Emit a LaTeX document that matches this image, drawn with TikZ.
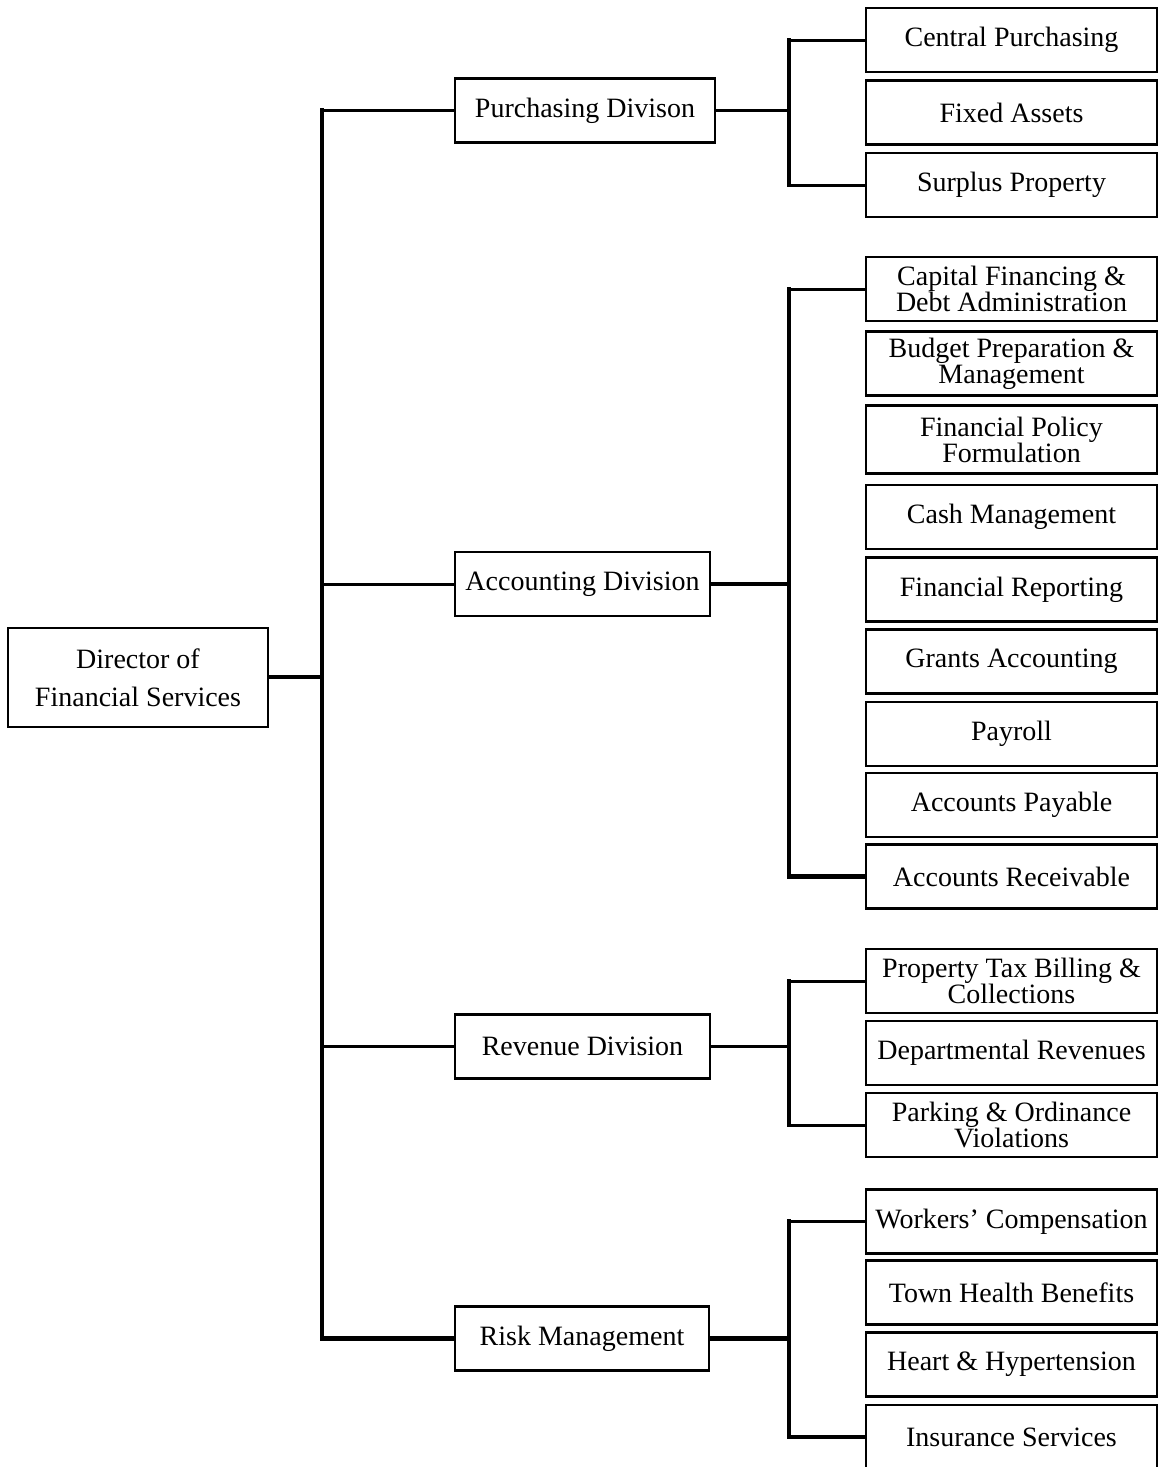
\documentclass[tikz,border=0pt]{standalone}
\usepackage{fontspec}
\setmainfont{Liberation Serif}
\begin{document}
\begin{tikzpicture}[x=1pt,y=-1pt,
  box/.style={draw=black,line width=2.4pt,fill=white,inner sep=0pt,align=center,
    font=\fontsize{28}{26}\selectfont},
  leaf/.style={box,minimum width=291pt,minimum height=64pt},
  div/.style={box,minimum width=258pt,minimum height=64pt},
  trunk/.style={line width=4.6pt,line cap=rect},
  branch/.style={line width=3pt},
  heavy/.style={line width=4.6pt}]
\useasboundingbox (0,0) rectangle (1160,1467);
% director
\node[box,minimum width=260pt,minimum height=99pt,font=\fontsize{28}{38}\selectfont] (dir) at (138,677.5) {Director of\\Financial Services};
% divisions
\node[div,minimum width=260pt] (pd) at (585,110.5) {Purchasing Divison};
\node[div,minimum width=255pt] (ad) at (582.5,584) {Accounting Division};
\node[div,minimum width=255pt] (rd) at (582.5,1046.5) {Revenue Division};
\node[div,minimum width=254pt] (rm) at (582,1338.5) {Risk Management};
% purchasing leaves
\node[leaf] (cp) at (1011.5,40) {Central Purchasing};
\node[leaf] (fa) at (1011.5,112.5) {Fixed Assets};
\node[leaf] (sp) at (1011.5,185) {Surplus Property};
% accounting leaves
\node[leaf] (cf) at (1011.5,289) {Capital Financing \&\\Debt Administration};
\node[leaf] (bp) at (1011.5,363.5) {Budget Preparation \&\\Management};
\node[leaf,minimum height=68pt] (fp) at (1011.5,439.5) {Financial Policy\\Formulation};
\node[leaf] (cm) at (1011.5,517) {Cash Management};
\node[leaf] (fr) at (1011.5,589.5) {Financial Reporting};
\node[leaf] (ga) at (1011.5,661.5) {Grants Accounting};
\node[leaf] (pr) at (1011.5,734) {Payroll};
\node[leaf] (ap) at (1011.5,805) {Accounts Payable};
\node[leaf] (ar) at (1011.5,876.5) {Accounts Receivable};
% revenue leaves
\node[leaf] (pt) at (1011.5,981) {Property Tax Billing \&\\Collections};
\node[leaf] (dr) at (1011.5,1053) {Departmental Revenues};
\node[leaf] (po) at (1011.5,1125) {Parking \& Ordinance\\Violations};
% risk leaves
\node[leaf] (wc) at (1011.5,1221.5) {Workers' Compensation};
\node[leaf] (th) at (1011.5,1292.5) {Town Health Benefits};
\node[leaf] (hh) at (1011.5,1364.5) {Heart \& Hypertension};
\node[leaf] (is) at (1011.5,1437) {Insurance Services};
% trunk coordinates
\coordinate (tr) at (322,677);
\coordinate (s1) at (789,110);
\coordinate (s2) at (789,582);
\coordinate (s3) at (789,1047);
\coordinate (s4) at (789,1340);
% main trunk
\draw[heavy] (dir.east |- tr) -- (tr);
\draw[trunk] (pd.west -| tr) -- (rm.west -| tr);
\draw[branch] (pd.west) -- (pd.west -| tr);
\draw[branch] (ad.west) -- (ad.west -| tr);
\draw[branch] (rd.west) -- (rd.west -| tr);
\draw[heavy] (rm.west) -- (rm.west -| tr);
% purchasing
\draw[branch] (pd.east) -- (pd.east -| s1);
\draw[trunk] (cp.west -| s1) -- (sp.west -| s1);
\draw[branch] (cp.west -| s1) -- (cp.west);
\draw[branch] (sp.west -| s1) -- (sp.west);
% accounting
\draw[heavy] (ad.east) -- (ad.east -| s2);
\draw[trunk] (cf.west -| s2) -- (ar.west -| s2);
\draw[branch] (cf.west -| s2) -- (cf.west);
\draw[heavy] (ar.west -| s2) -- (ar.west);
% revenue
\draw[branch] (rd.east) -- (rd.east -| s3);
\draw[trunk] (pt.west -| s3) -- (po.west -| s3);
\draw[branch] (pt.west -| s3) -- (pt.west);
\draw[branch] (po.west -| s3) -- (po.west);
% risk
\draw[heavy] (rm.east) -- (rm.east -| s4);
\draw[trunk] (wc.west -| s4) -- (is.west -| s4);
\draw[branch] (wc.west -| s4) -- (wc.west);
\draw[heavy] (is.west -| s4) -- (is.west);
\end{tikzpicture}
\end{document}
